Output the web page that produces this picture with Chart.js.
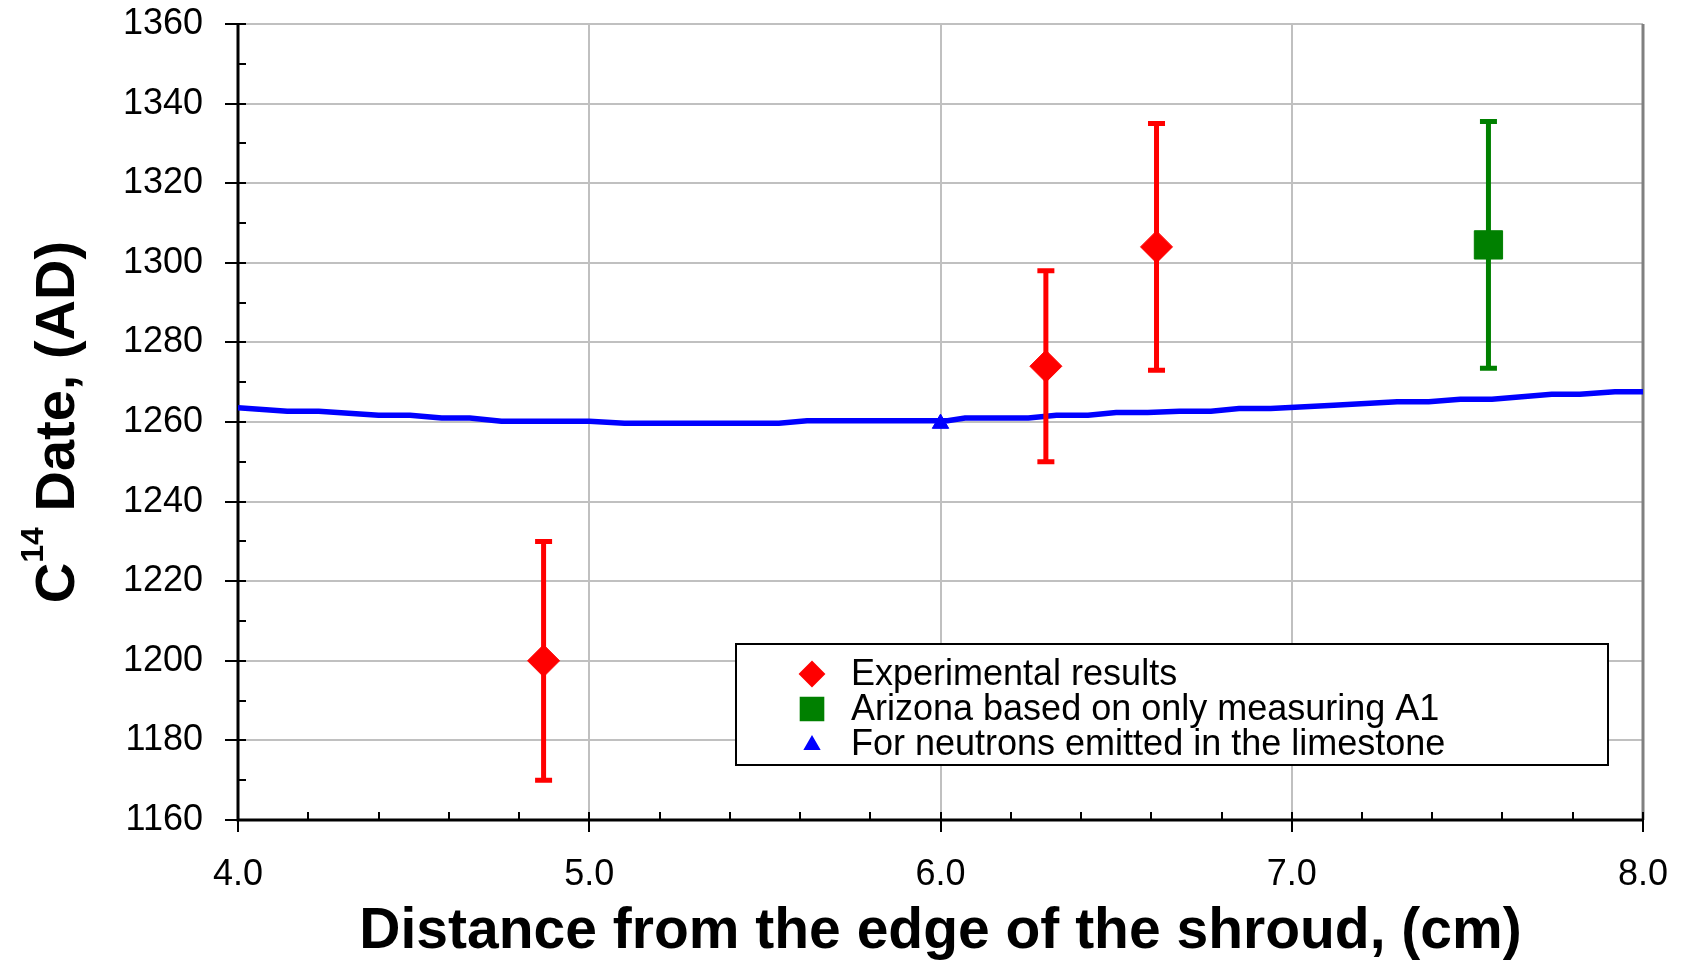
<!DOCTYPE html>
<html>
<head>
<meta charset="utf-8">
<script src="https://cdn.jsdelivr.net/npm/chart.js@4.4.0/dist/chart.umd.min.js"></script>
<style>
  html, body { margin: 0; padding: 0; background: #fff; }
  #wrap { position: relative; width: 1683px; height: 960px; }
</style>
</head>
<body>
<div id="wrap"><canvas id="c14_chart"></canvas></div>
<script>
// experimental results (red diamonds) with +/- error
const expX = [4.87, 6.30, 6.615];
const expY = [1200, 1274, 1304];
const expErr = [30, 24, 31];

// Arizona, only measuring A1 (green square)
const azX = [7.56];
const azY = [1304.5];
const azErr = [31];

// neutrons emitted in the limestone (blue curve + marker)
const limeX = [4.00, 4.14, 4.23, 4.40, 4.49, 4.58, 4.66, 4.75, 5.00, 5.10, 5.54, 5.62, 6.02, 6.07, 6.25,
  6.33, 6.42, 6.50, 6.59, 6.68, 6.77, 6.85, 6.94, 7.12, 7.30, 7.39, 7.48, 7.57, 7.74, 7.82, 7.92, 8.00];
const limeY = [1263.6, 1262.7, 1262.7, 1261.7, 1261.7, 1261.0, 1261.0, 1260.2, 1260.2, 1259.7, 1259.7, 1260.3, 1260.3, 1261.0, 1261.0,
  1261.7, 1261.7, 1262.4, 1262.4, 1262.7, 1262.7, 1263.4, 1263.4, 1264.2, 1265.1, 1265.1, 1265.7, 1265.7, 1267.0, 1267.0, 1267.6, 1267.6];
const limeMarkX = [6.0];
const limeMarkY = [1259.6];

const legendLabels = ['Experimental results', 'Arizona based on only measuring A1', 'For neutrons emitted in the limestone'];
const xTitle = 'Distance from the edge of the shroud, (cm)';
const yTitle = ['C', '14', ' Date, (AD)'];

const FONT = '"Liberation Sans", Arial, sans-serif';
const pts = (xs, ys) => xs.map((x, i) => ({x: x, y: ys[i]}));

// error bars, drawn right after the blue curve so markers sit on top
const errorBars = {
  id: 'errorBars',
  afterDatasetDraw(chart, args) {
    if (args.index !== 3) return;
    const {ctx, scales: {x, y}} = chart;
    const sets = [[expX, expY, expErr, '#ff0000'], [azX, azY, azErr, '#008000']];
    ctx.save();
    ctx.lineWidth = 5;
    sets.forEach(([xs, ys, es, col]) => {
      ctx.strokeStyle = col;
      xs.forEach((v, i) => {
        const px = x.getPixelForValue(v);
        const top = y.getPixelForValue(ys[i] + es[i]);
        const bot = y.getPixelForValue(ys[i] - es[i]);
        ctx.beginPath();
        ctx.moveTo(px, top); ctx.lineTo(px, bot);
        ctx.moveTo(px - 8.5, top); ctx.lineTo(px + 8.5, top);
        ctx.moveTo(px - 8.5, bot); ctx.lineTo(px + 8.5, bot);
        ctx.stroke();
      });
    });
    ctx.restore();
  }
};

// axis lines, crossing major ticks and inner minor ticks, frame
const axes = {
  id: 'axes',
  beforeDatasetsDraw(chart) {
    const {ctx, chartArea: a, scales: {x, y}} = chart;
    ctx.save();
    ctx.strokeStyle = '#808080';
    ctx.lineWidth = 3;
    ctx.beginPath(); ctx.moveTo(a.right, a.top); ctx.lineTo(a.right, a.bottom); ctx.stroke();

    ctx.strokeStyle = '#000';
    ctx.beginPath();
    ctx.moveTo(a.left, a.top); ctx.lineTo(a.left, a.bottom); ctx.lineTo(a.right, a.bottom);
    ctx.stroke();

    ctx.lineWidth = 2;
    ctx.beginPath();
    for (let v = y.min; v <= y.max + 0.01; v += 10) {
      const py = Math.round(y.getPixelForValue(v));
      const major = Math.round(v) % 20 === 0;
      ctx.moveTo(a.left - (major ? 13 : 0), py); ctx.lineTo(a.left + 8, py);
    }
    for (let i = 0; i <= 20; i++) {
      const px = Math.round(x.getPixelForValue(x.min + i * 0.2));
      const major = i % 5 === 0;
      ctx.moveTo(px, a.bottom + (major ? 12 : 0)); ctx.lineTo(px, a.bottom - 8);
    }
    ctx.stroke();
    ctx.restore();
  }
};

// axis titles and boxed legend
const titlesLegend = {
  id: 'titlesLegend',
  afterDraw(chart) {
    const {ctx, chartArea: a} = chart;
    ctx.save();
    ctx.fillStyle = '#000';

    ctx.font = 'bold 57px ' + FONT;
    ctx.textAlign = 'center';
    ctx.textBaseline = 'alphabetic';
    ctx.fillText(xTitle, (a.left + a.right) / 2, 948);

    // y title with superscript
    ctx.translate(74, (a.top + a.bottom) / 2);
    ctx.rotate(-Math.PI / 2);
    ctx.textAlign = 'left';
    ctx.font = 'bold 56px ' + FONT;
    const wC = ctx.measureText(yTitle[0]).width;
    const wR = ctx.measureText(yTitle[2]).width;
    ctx.font = 'bold 32px ' + FONT;
    const wS = ctx.measureText(yTitle[1]).width;
    let sx = -(wC + wS + wR) / 2;
    ctx.font = 'bold 56px ' + FONT;
    ctx.fillText(yTitle[0], sx, 0);
    ctx.font = 'bold 32px ' + FONT;
    ctx.fillText(yTitle[1], sx + wC, -31);
    ctx.font = 'bold 56px ' + FONT;
    ctx.fillText(yTitle[2], sx + wC + wS, 0);
    ctx.restore();

    // legend box
    ctx.save();
    ctx.fillStyle = '#fff';
    ctx.fillRect(736, 644, 872, 121);
    ctx.strokeStyle = '#000';
    ctx.lineWidth = 2;
    ctx.strokeRect(736, 644, 872, 121);
    const marks = [
      {pointStyle: 'rectRot', radius: 12, col: '#ff0000', y: 674},
      {pointStyle: 'rect', radius: 16, col: '#008000', y: 709},
      {pointStyle: 'triangle', radius: 8, col: '#0000ff', y: 745}
    ];
    ctx.font = '36px ' + FONT;
    ctx.textAlign = 'left';
    ctx.textBaseline = 'alphabetic';
    marks.forEach((m, i) => {
      ctx.fillStyle = m.col;
      ctx.strokeStyle = m.col;
      Chart.helpers.drawPoint(ctx, {pointStyle: m.pointStyle, radius: m.radius, rotation: 0, borderWidth: 1}, 812, m.y);
      ctx.fillStyle = '#000';
      ctx.fillText(legendLabels[i], 851, 685 + i * 35);
    });
    ctx.restore();
  }
};

new Chart(document.getElementById('c14_chart'), {
  type: 'scatter',
  data: {
    datasets: [
      {
        label: legendLabels[0],
        data: pts(expX, expY),
        pointStyle: 'rectRot', pointRadius: 16, borderWidth: 1,
        backgroundColor: '#ff0000', borderColor: '#ff0000'
      },
      {
        label: legendLabels[1],
        data: pts(azX, azY),
        pointStyle: 'rect', pointRadius: 20, borderWidth: 1,
        backgroundColor: '#008000', borderColor: '#008000'
      },
      {
        label: legendLabels[2],
        data: pts(limeMarkX, limeMarkY),
        pointStyle: 'triangle', pointRadius: 9.5, borderWidth: 1,
        backgroundColor: '#0000ff', borderColor: '#0000ff'
      },
      {
        label: 'limestone curve',
        data: pts(limeX, limeY),
        showLine: true, pointRadius: 0, borderWidth: 5.5, tension: 0,
        borderColor: '#0000ff', backgroundColor: '#0000ff'
      }
    ]
  },
  options: {
    responsive: true,
    maintainAspectRatio: false,
    animation: false,
    events: [],
    layout: {padding: {left: 0, top: 24, right: 40, bottom: 0}},
    plugins: {legend: {display: false}, tooltip: {enabled: false}},
    scales: {
      x: {
        type: 'linear', min: 4, max: 8,
        afterFit: s => { s.height = 140; s.paddingLeft = 0; s.paddingRight = 0; },
        border: {display: false},
        grid: {color: '#c0c0c0', lineWidth: 2, drawTicks: false},
        ticks: {
          stepSize: 1, padding: 33, color: '#000',
          font: {family: FONT, size: 36},
          callback: v => v.toFixed(1)
        }
      },
      y: {
        min: 1160, max: 1360,
        afterFit: s => { s.width = 238; s.paddingTop = 0; s.paddingBottom = 0; },
        border: {display: false},
        grid: {color: '#c0c0c0', lineWidth: 2, drawTicks: false},
        ticks: {
          stepSize: 20, padding: 35, color: '#000',
          font: {family: FONT, size: 36},
          callback: v => String(v)
        }
      }
    }
  },
  plugins: [axes, errorBars, titlesLegend]
});
</script>
</body>
</html>
